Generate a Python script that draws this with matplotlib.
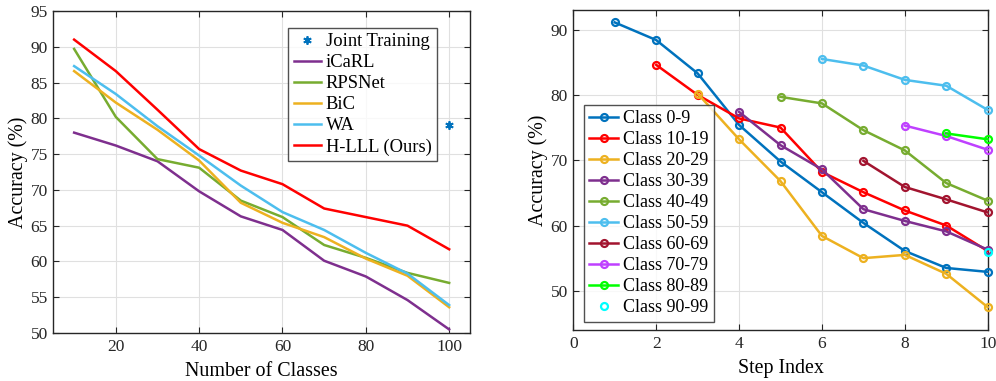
import matplotlib
matplotlib.use("Agg")
import matplotlib.pyplot as plt

plt.rcParams['font.family'] = ['Liberation Serif', 'DejaVu Serif']
plt.rcParams['mathtext.fontset'] = 'stix'

# ---------------- Left panel data ----------------
num_classes = [10, 20, 30, 40, 50, 60, 70, 80, 90, 100]
icarl = [78.0, 76.2, 74.0, 69.8, 66.3, 64.4, 60.1, 57.9, 54.6, 50.5]
rpsnet = [89.7, 80.2, 74.3, 73.1, 68.5, 66.2, 62.3, 60.5, 58.4, 57.0]
bic = [86.6, 82.2, 78.4, 74.1, 68.2, 65.4, 63.4, 60.4, 58.0, 53.6]
wa = [87.3, 83.4, 78.9, 74.8, 70.6, 66.9, 64.4, 61.2, 58.3, 53.9]
hlll = [91.0, 86.6, 81.2, 75.7, 72.7, 70.8, 67.4, 66.2, 65.0, 61.7]
joint_x = [100]
joint_y = [79.1]
left_names = ['iCaRL', 'RPSNet', 'BiC', 'WA', 'H-LLL (Ours)']
left_colors = ['#7E2F8E', '#77AC30', '#EDB120', '#4DBEEE', '#FF0000']
left_xticks = [20, 40, 60, 80, 100]
left_yticks = [50, 55, 60, 65, 70, 75, 80, 85, 90, 95]

# ---------------- Right panel data ----------------
class_labels = ['Class 0-9', 'Class 10-19', 'Class 20-29', 'Class 30-39',
                'Class 40-49', 'Class 50-59', 'Class 60-69', 'Class 70-79',
                'Class 80-89', 'Class 90-99']
start_steps = [1, 2, 3, 4, 5, 6, 7, 8, 9, 10]
class_acc = [
    [91.1, 88.4, 83.3, 75.4, 69.8, 65.1, 60.4, 56.1, 53.5, 52.9],
    [84.6, 80.0, 76.4, 75.0, 68.2, 65.1, 62.3, 60.0, 56.1],
    [80.2, 73.2, 66.8, 58.4, 55.0, 55.5, 52.6, 47.5],
    [77.4, 72.3, 68.6, 62.5, 60.7, 59.1, 56.3],
    [79.7, 78.7, 74.6, 71.5, 66.5, 63.8],
    [85.5, 84.5, 82.3, 81.4, 77.7],
    [69.9, 65.9, 64.0, 62.0],
    [75.3, 73.7, 71.6],
    [74.1, 73.2],
    [56.0],
]
right_colors = ['#0072BD', '#FF0000', '#EDB120', '#7E2F8E', '#77AC30',
                '#4DBEEE', '#A2142F', '#BF40FF', '#00FF00', '#00FFFF']
right_xticks = [0, 2, 4, 6, 8, 10]
right_yticks = [50, 60, 70, 80, 90]

W, H = 996, 381
fig = plt.figure(figsize=(W / 100, H / 100), dpi=100)

def style_axes(ax):
    ax.grid(True, color='#E0E0E0', lw=0.8)
    ax.set_axisbelow(True)
    for s in ax.spines.values():
        s.set_color('#262626')
        s.set_linewidth(1.0)
    ax.tick_params(direction='in', top=True, right=True, length=4,
                   width=0.8, colors='#262626', labelsize=12.5, pad=4)

# Left
ax1 = fig.add_axes([53.3 / W, 1 - 333 / H, (470 - 53.3) / W, (333 - 11) / H])
style_axes(ax1)
ax1.plot(joint_x, joint_y, linestyle='none', marker=(6, 2, 0), color='#0072BD',
         markersize=6, markeredgewidth=1.3, label='Joint Training')
for ys, name, c in zip([icarl, rpsnet, bic, wa, hlll], left_names, left_colors):
    ax1.plot(num_classes, ys, color=c, lw=1.8, label=name)
ax1.set_xlim(5, 105)
ax1.set_ylim(50, 95)
ax1.set_xticks(left_xticks)
ax1.set_yticks(left_yticks)
ax1.set_xlabel('Number of Classes', fontsize=14.4, labelpad=5)
ax1.set_ylabel('Accuracy (%)', fontsize=14.4, labelpad=2)
leg1 = ax1.legend(loc='upper right', fontsize=13.3, frameon=True, fancybox=False,
                  edgecolor='#262626', borderpad=0.3, labelspacing=0.22,
                  handlelength=1.5, handletextpad=0.25, borderaxespad=0)
leg1.set_bbox_to_anchor((437.3 / W, 1 - 27.7 / H), transform=fig.transFigure)
leg1.get_frame().set_linewidth(1.0)

# Right
ax2 = fig.add_axes([573.3 / W, 1 - 330 / H, (987.7 - 573.3) / W, (330 - 10) / H])
style_axes(ax2)
for k, (st, ys, lab, c) in enumerate(zip(start_steps, class_acc, class_labels, right_colors)):
    xs = list(range(st, st + len(ys)))
    ls = '-' if len(ys) > 1 else 'none'
    ax2.plot(xs, ys, color=c, lw=1.8, linestyle=ls, marker='o', markersize=5,
             markerfacecolor='none', markeredgewidth=1.6, label=lab,
             clip_on=False, zorder=3 + k * 0.01)
ax2.set_xlim(0, 10)
ax2.set_ylim(44, 93)
ax2.set_xticks(right_xticks)
ax2.set_yticks(right_yticks)
ax2.set_xlabel('Step Index', fontsize=14.4, labelpad=5)
ax2.set_ylabel('Accuracy (%)', fontsize=14.4, labelpad=2)
leg2 = ax2.legend(loc='upper left', fontsize=13, frameon=True, fancybox=False,
                  edgecolor='#262626', borderpad=0.3, labelspacing=0.22,
                  handlelength=1.6, handletextpad=0.25, borderaxespad=0)
leg2.set_bbox_to_anchor((584 / W, 1 - 105 / H), transform=fig.transFigure)
leg2.get_frame().set_linewidth(1.0)
leg2.set_zorder(10)

fig.savefig('out.png', dpi=100)
